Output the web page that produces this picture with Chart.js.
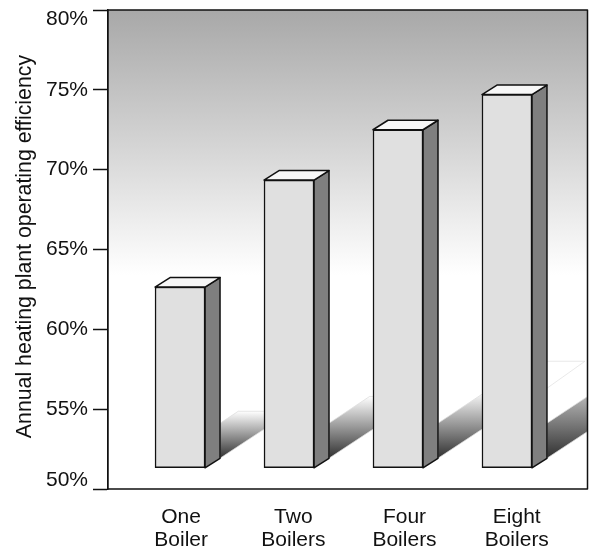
<!DOCTYPE html>
<html>
<head>
<meta charset="utf-8">
<style>
  html, body { margin: 0; padding: 0; background: #fff; }
  canvas { display: block; }
</style>
<script src="https://cdn.jsdelivr.net/npm/chart.js@4"></script>
</head>
<body>
<canvas id="chart" width="592" height="546"></canvas>
<script>
const categories = [["One", "Boiler"], ["Two", "Boilers"], ["Four", "Boilers"], ["Eight", "Boilers"]];
const positions = [1, 2, 3, 4];
// labels drift a little to the right of their bars in the original
const labelPositions = [1.01, 2.04, 3.06, 4.09];
const efficiency = [62.65, 69.35, 72.5, 74.7];
const barBase = 51.33;
const yTicks = [50, 55, 60, 65, 70, 75, 80];
// leading space nudges the centred title up a little
const yTitle = " Annual heating plant operating efficiency";

// 3d look of the bars
const depthX = 15;
const depthY = 9.5;
// how far up the floor shadow fades out, as part of the bar height
const fadeShare = [0.26, 0.215, 0.2, 0.26];

const fontName = "'Liberation Sans', Arial, sans-serif";
const ink = "#111";

const decorPlugin = {
  id: "decor",
  beforeDatasetsDraw(chart) {
    const ctx = chart.ctx;
    const area = chart.chartArea;

    // backdrop
    const bg = ctx.createLinearGradient(0, area.top, 0, area.top + 265);
    bg.addColorStop(0, "#a8a8a8");
    bg.addColorStop(1, "#ffffff");
    ctx.fillStyle = bg;
    ctx.fillRect(area.left, area.top, area.width, area.height);

    ctx.save();
    ctx.beginPath();
    ctx.rect(area.left, area.top, area.width, area.height);
    ctx.clip();

    const bars = chart.getDatasetMeta(0).data;
    bars.forEach((bar, i) => {
      const right = bar.x + bar.width / 2 + depthX;
      const floor = bar.base - depthY;
      const height = bar.base - bar.y;
      const fadeY = floor - height * fadeShare[i];
      const reach = 70;
      const slope = 0.66;
      const topStart = floor - 35;
      const topEnd = topStart - reach * slope;

      // outline and flat cap of the shadow
      ctx.beginPath();
      ctx.moveTo(right, floor);
      ctx.lineTo(right, topStart);
      if (topEnd < fadeY) {
        ctx.lineTo(right + (topStart - fadeY) / slope, fadeY);
        ctx.lineTo(right + reach, fadeY);
      } else {
        ctx.lineTo(right + reach, topEnd);
      }
      ctx.lineTo(right + reach, floor - reach * slope);
      ctx.closePath();
      const grad = ctx.createLinearGradient(0, fadeY, 0, floor);
      grad.addColorStop(0, "#ffffff");
      grad.addColorStop(1, "#303030");
      ctx.fillStyle = grad;
      ctx.fill();
      ctx.strokeStyle = "#dcdcdc";
      ctx.lineWidth = 0.75;
      ctx.stroke();

      // last bar has a second faint edge above its shadow
      if (i === bars.length - 1) {
        ctx.beginPath();
        ctx.moveTo(right, fadeY + 27);
        ctx.lineTo(right + 38, fadeY);
        ctx.lineTo(right, fadeY);
        ctx.strokeStyle = "#e2e2e2";
        ctx.stroke();
      }
    });
    ctx.restore();

    // side and top faces
    ctx.lineJoin = "round";
    ctx.lineWidth = 1.5;
    ctx.strokeStyle = "#111";
    bars.forEach((bar) => {
      const left = bar.x - bar.width / 2;
      const right = bar.x + bar.width / 2;
      ctx.beginPath();
      ctx.moveTo(right, bar.y);
      ctx.lineTo(right + depthX, bar.y - depthY);
      ctx.lineTo(right + depthX, bar.base - depthY);
      ctx.lineTo(right, bar.base);
      ctx.closePath();
      ctx.fillStyle = "#7f7f7f";
      ctx.fill();
      ctx.stroke();

      ctx.beginPath();
      ctx.moveTo(left, bar.y);
      ctx.lineTo(left + depthX, bar.y - depthY);
      ctx.lineTo(right + depthX, bar.y - depthY);
      ctx.lineTo(right, bar.y);
      ctx.closePath();
      ctx.fillStyle = "#f7f7f7";
      ctx.fill();
      ctx.stroke();
    });
  },
  afterDraw(chart) {
    const ctx = chart.ctx;
    const area = chart.chartArea;
    ctx.strokeStyle = ink;
    ctx.lineWidth = 1.5;
    ctx.strokeRect(area.left, area.top, area.width, area.height);
  },
};

new Chart(document.getElementById("chart"), {
  type: "bar",
  plugins: [decorPlugin],
  data: {
    datasets: [
      {
        data: positions.map((p, i) => ({ x: p, y: [barBase, efficiency[i]] })),
        backgroundColor: "#e0e0e0",
        borderColor: "#111",
        borderWidth: 1.5,
        borderSkipped: false,
        barThickness: 50,
      },
    ],
  },
  options: {
    responsive: false,
    animation: false,
    layout: { padding: { top: 10, right: 4.5, left: 0, bottom: 0 } },
    plugins: { legend: { display: false }, tooltip: { enabled: false } },
    scales: {
      x: {
        type: "linear",
        offset: false,
        min: 0.339,
        max: 4.739,
        grid: { display: false, offset: false },
        border: { display: false },
        afterBuildTicks(axis) {
          axis.ticks = labelPositions.map((p) => ({ value: p }));
        },
        afterFit(axis) {
          axis.height = 57;
          axis.paddingLeft = 0;
          axis.paddingRight = 0;
        },
        ticks: {
          autoSkip: false,
          maxRotation: 0,
          padding: 8,
          color: ink,
          font: { family: fontName, size: 21, lineHeight: 1.12 },
          callback: (v, i) => categories[i],
        },
      },
      y: {
        type: "linear",
        min: 50,
        max: 80,
        afterBuildTicks(axis) {
          axis.ticks = yTicks.map((v) => ({ value: v }));
        },
        afterFit(axis) {
          axis.width = 108;
          axis.paddingTop = 0;
          axis.paddingBottom = 0;
        },
        grid: {
          drawOnChartArea: false,
          tickLength: 15,
          tickColor: ink,
          tickWidth: 1.5,
        },
        border: { color: ink, width: 1.5 },
        title: {
          display: true,
          text: yTitle,
          color: ink,
          padding: { top: 12, bottom: 0 },
          font: { family: fontName, size: 21.3 },
        },
        ticks: {
          padding: 5,
          color: ink,
          font: { family: fontName, size: 21, lineHeight: "18px" },
          // end labels sit inside the axis, an empty line pushes them in
          callback: (v) => {
            if (v === 80) return ["", v + "%"];
            if (v === 50) return [v + "%", ""];
            return v + "%";
          },
        },
      },
    },
  },
});
</script>
</body>
</html>
